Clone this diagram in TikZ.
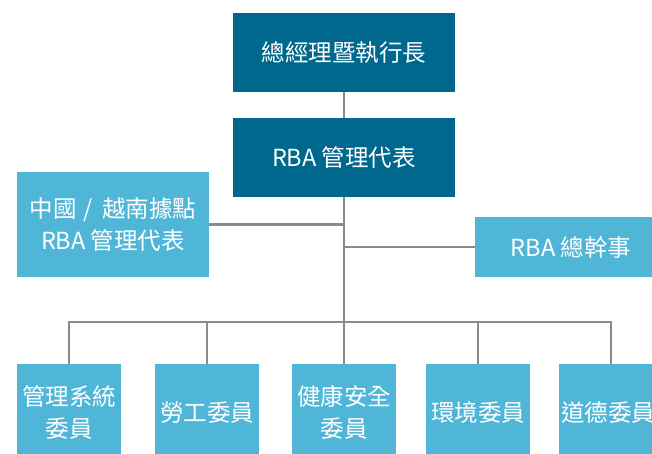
\documentclass[tikz,border=0pt]{standalone}
\usepackage{fontspec}
\setmainfont{Noto Sans CJK TC}
\usetikzlibrary{positioning}

\definecolor{darkblue}{HTML}{00678D}
\definecolor{lightblue}{HTML}{50B6D8}
\definecolor{linkgray}{HTML}{8A8A8A}

\begin{document}
\begin{tikzpicture}[x=1pt, y=-1pt,
  darkbox/.style={fill=darkblue, text=white, align=center, inner sep=0pt},
  lightbox/.style={fill=lightblue, text=white, align=center, inner sep=0pt},
  link/.style={draw=linkgray, line width=2.5pt}]

\useasboundingbox (0,0) rectangle (652,453);
\fontsize{23.5}{32}\selectfont

% Sizes
\def\topw{222}
\def\toph{79}
\def\sidew{192}
\def\boxw{104}
\def\boxh{96}

% Management chain
\node[darkbox, minimum width=\topw pt, minimum height=\toph pt] (ceo) at (344,52.5) {總經理暨執行長};
\node[darkbox, minimum width=\topw pt, minimum height=\toph pt] (rep) at (344,157.5) {RBA 管理代表};

% Side boxes
\node[lightbox, minimum width=\sidew pt, minimum height=105pt] (site) at (113,224.5) {中國\hspace{7pt}/\hspace{9pt}越南據點\\RBA 管理代表};
\node[lightbox, minimum width=\sidew pt, minimum height=60pt] (sec) at (571,247) {RBA 總幹事};

% Committees
\foreach \i/\x/\text in {
1/69/管理系統\\委員,
2/207/勞工委員,
3/344/健康安全\\委員,
4/478/環境委員,
5/611/道德委員
} {
  \node[lightbox, minimum width=\boxw pt, minimum height=\boxh pt, anchor=north] (c\i) at (\x,364) {\text};
}

% Connectors
\coordinate (bus) at (344,322);
\draw[link] (ceo) -- (rep);
\draw[link] (rep) -- (bus);
\draw[link] (site.east) -- (site.east -| rep);
\draw[link] (sec.west) -- (sec.west -| rep);
\foreach \i in {1,...,5} {
  \draw[link] (bus) -| (c\i.north);
}

\end{tikzpicture}
\end{document}
